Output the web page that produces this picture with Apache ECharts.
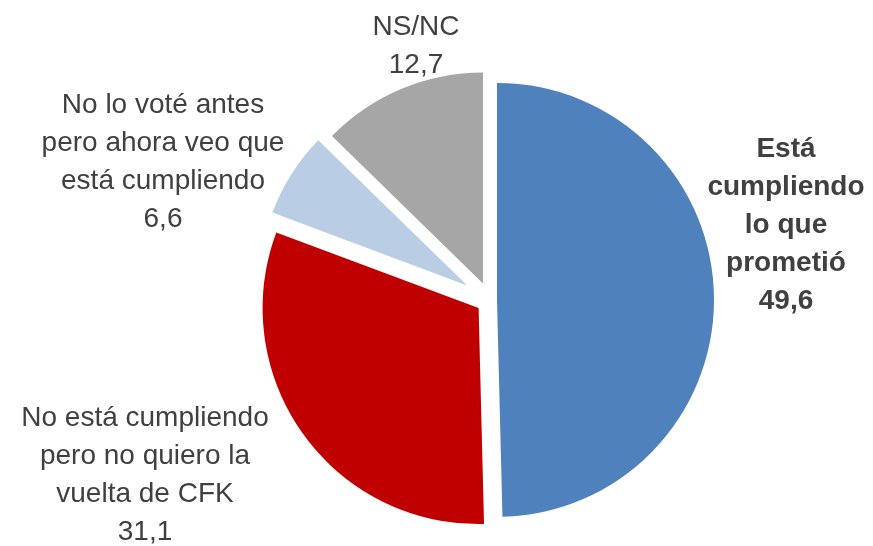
<!DOCTYPE html>
<html style="height: 100%">
<head>
  <meta charset="utf-8">
</head>
<body style="height: 100%; margin: 0; background: #fff">
  <div id="container" style="width: 873px; height: 546px"></div>
  <script src="https://cdn.jsdelivr.net/npm/echarts/dist/echarts.min.js"></script>
  <script>
    // data
    var categories = [
      'Está\ncumpliendo\nlo que\nprometió',
      'No está cumpliendo\npero no quiero la\nvuelta de CFK',
      'No lo voté antes\npero ahora veo que\nestá cumpliendo',
      'NS/NC'
    ];
    var values = [49.6, 31.1, 6.6, 12.7];

    // styling / layout (not data)
    var colors = ['#4F81BD', '#C00000', '#B9CDE5', '#A6A6A6'];
    var explode = [7, 14, 27, 18];
    var radii = [217, 216, 208, 211];
    var labelPos = [[786, 225], [145, 475], [163, 162], [416, 46]];
    var bold = [true, false, false, false];

    var myChart = echarts.init(document.getElementById('container'));

    function fmt(v) {
      return v.toFixed(1).replace('.', ',');
    }

    // one series per slice so every slice gets its own explosion
    var series = values.map(function (v, i) {
      return {
        type: 'pie',
        center: [490, 300],
        radius: [0, radii[i]],
        startAngle: 90,
        clockwise: true,
        selectedMode: true,
        selectedOffset: explode[i],
        silent: true,
        animation: false,
        label: { show: false },
        labelLine: { show: false },
        data: values.map(function (val, j) {
          var own = (j === i);
          return {
            name: categories[j],
            value: val,
            selected: own,
            itemStyle: { color: colors[j], opacity: own ? 1 : 0 }
          };
        })
      };
    });

    // data labels, text taken from the arrays above
    var labels = categories.map(function (name, i) {
      return {
        type: 'text',
        x: labelPos[i][0],
        y: labelPos[i][1],
        silent: true,
        style: {
          text: name + '\n' + fmt(values[i]),
          fill: '#404040',
          font: (bold[i] ? 'bold ' : '') + '28px "Liberation Sans", Arial, sans-serif',
          lineHeight: 38,
          align: 'center',
          verticalAlign: 'middle'
        }
      };
    });

    var option = {
      backgroundColor: '#ffffff',
      graphic: labels,
      series: series
    };
    myChart.setOption(option, true);
  </script>
</body>
</html>
